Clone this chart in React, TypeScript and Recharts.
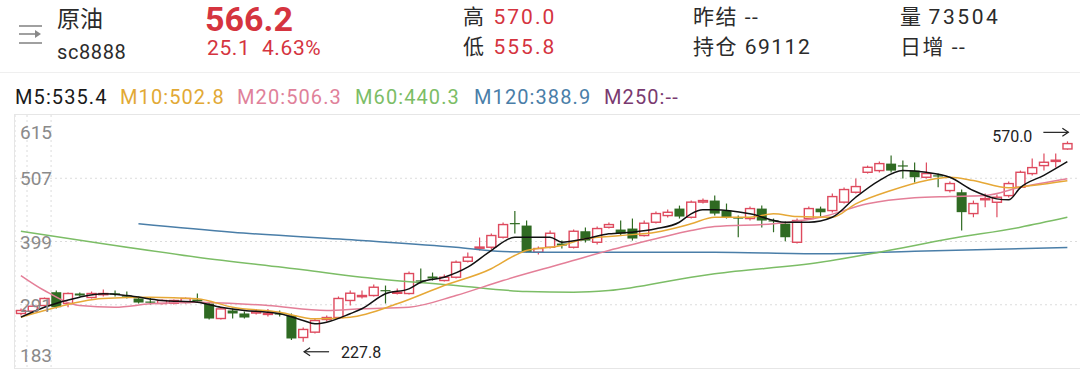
import React from "react";
import {
  ComposedChart,
  Bar,
  Line,
  XAxis,
  YAxis,
  CartesianGrid,
  ReferenceDot,
} from "recharts";

// daily candles, oldest first
const opens = [
  276.1, 280.0, 289.7, 312.4, 293.1, 310.2, 303.4, 309.5, 310.5, 306.8,
  301.7, 296.5, 293.1, 293.5, 294.8, 300.0, 293.1, 267.5, 281.2, 276.1,
  276.9, 276.1, 276.3, 272.7, 235.1, 244.2, 265.8, 269.2, 298.3, 306.5,
  306.8, 316.0, 312.2, 310.2, 332.6, 339.2, 332.4, 338.0, 365.3, 389.0,
  389.2, 406.3, 430.5, 426.2, 380.7, 389.2, 395.5, 389.2, 416.5, 397.7,
  423.3, 419.4, 421.1, 409.2, 431.9, 443.3, 455.2, 440.4, 466.3, 468.9,
  451.8, 440.1, 438.2, 455.2, 435.2, 429.6, 397.7, 438.2, 455.2, 451.8,
  466.2, 483.1, 517.2, 520.1, 532.0, 529.0, 520.1, 508.7, 512.0, 486.0,
  483.1, 446.7, 472.0, 466.0, 477.4, 491.6, 515.0, 528.6, 536.8, 557.0,
];
const closes = [
  281.2, 288.5, 301.7, 286.8, 310.2, 306.8, 310.2, 310.2, 310.0, 306.3,
  294.8, 296.1, 298.3, 298.3, 301.7, 296.6, 267.5, 283.9, 276.1, 269.2,
  279.5, 276.5, 275.8, 233.4, 248.8, 264.1, 269.2, 301.7, 310.7, 306.8,
  320.9, 315.0, 312.6, 344.3, 332.2, 335.8, 338.0, 363.6, 372.2, 389.5,
  409.2, 427.9, 428.5, 380.7, 387.0, 413.1, 392.1, 416.5, 400.6, 421.1,
  427.9, 412.6, 404.1, 430.2, 446.7, 448.9, 441.6, 466.2, 468.9, 446.7,
  440.4, 439.4, 455.2, 434.8, 434.5, 406.3, 434.8, 455.2, 448.9, 475.7,
  487.7, 492.8, 525.7, 532.0, 520.1, 528.2, 508.7, 515.0, 511.4, 497.9,
  449.1, 463.8, 472.3, 474.6, 497.9, 517.2, 525.2, 534.3, 537.8, 566.2,
];
const highs = [
  284.6, 291.4, 303.4, 315.3, 311.9, 311.9, 313.6, 317.0, 315.3, 313.6,
  305.1, 303.4, 300.0, 300.0, 303.4, 310.2, 294.8, 286.3, 284.6, 279.5,
  283.9, 283.9, 281.2, 276.1, 252.2, 267.5, 272.7, 305.1, 315.3, 315.3,
  325.5, 323.8, 318.7, 347.7, 352.9, 346.0, 342.6, 366.5, 380.2, 405.8,
  412.6, 431.3, 450.9, 434.8, 390.4, 417.7, 400.6, 419.4, 422.8, 424.5,
  431.3, 434.8, 438.2, 434.8, 450.1, 453.5, 460.3, 468.9, 472.3, 477.4,
  463.8, 443.3, 458.6, 460.3, 438.2, 433.0, 438.2, 458.6, 458.6, 480.9,
  491.1, 506.5, 528.6, 535.5, 545.7, 537.2, 533.8, 533.8, 515.0, 501.3,
  487.7, 468.9, 480.9, 479.1, 501.3, 520.1, 540.6, 549.1, 549.1, 570.0,
];
const lows = [
  272.7, 277.8, 288.0, 284.6, 286.8, 305.1, 301.7, 305.1, 305.1, 301.7,
  293.1, 291.4, 291.4, 291.4, 293.1, 294.8, 265.8, 265.8, 267.5, 267.5,
  274.4, 271.0, 271.0, 230.8, 227.8, 241.9, 262.4, 267.5, 289.7, 301.7,
  305.1, 293.1, 308.5, 308.5, 327.2, 332.4, 330.7, 335.8, 363.1, 383.6,
  385.3, 404.1, 412.6, 380.2, 376.8, 387.0, 387.0, 387.0, 397.2, 393.8,
  421.1, 409.2, 400.6, 407.5, 429.6, 439.9, 438.2, 438.2, 463.8, 443.3,
  438.2, 406.3, 434.8, 422.8, 414.8, 399.4, 395.5, 436.5, 441.6, 448.4,
  463.8, 480.9, 515.0, 516.7, 516.7, 506.5, 499.6, 506.5, 491.6, 482.6,
  417.7, 440.4, 457.5, 440.4, 474.0, 489.4, 511.6, 520.1, 525.2, 555.8,
];

// moving averages at some candles: [candle index, value]
const ma5Points = [
  [0, 269.8], [2, 286.8], [5, 303.9], [7, 309.7], [9, 306.8], [12, 298.3],
  [15, 295.4], [17, 286.8], [19, 281.2], [21, 278.3], [22, 275.6], [24, 264.2],
  [25, 258.5], [26, 261.2], [28, 275.6], [29, 284.1], [31, 309.7], [33, 318.2],
  [34, 329.5], [36, 338.0], [38, 355.1], [40, 383.6], [42, 406.3], [45, 406.3],
  [46, 397.8], [48, 403.6], [50, 412.1], [52, 414.8], [54, 420.6], [56, 431.9],
  [57, 446.2], [58, 453.1], [59, 453.1], [62, 446.2], [65, 431.9], [67, 431.9],
  [69, 440.4], [71, 474.6], [73, 503.1], [75, 520.1], [77, 517.2], [79, 508.7],
  [81, 486.0], [83, 471.8], [84, 470.1], [85, 491.0], [87, 512.0], [89, 535.4],
];
const ma10Points = [
  [0, 269.8], [2, 281.2], [7, 301.7], [11, 303.9], [15, 301.2], [18, 286.8],
  [22, 278.3], [25, 267.0], [28, 269.8], [32, 292.6], [36, 323.9], [40, 352.4],
  [42, 375.1], [43, 383.6], [46, 392.1], [48, 403.6], [51, 409.2], [54, 414.8],
  [57, 429.2], [59, 440.4], [62, 440.4], [64, 446.2], [66, 441.6], [69, 440.4],
  [71, 463.3], [74, 486.0], [77, 503.1], [79, 508.7], [81, 503.1], [84, 490.6],
  [86, 494.5], [89, 502.8],
];
const ma20Points = [
  [0, 340.9], [2, 315.3], [5, 289.7], [8, 286.8], [11, 292.6], [15, 295.4],
  [21, 289.7], [26, 281.2], [29, 284.1], [33, 286.8], [37, 306.8], [41, 332.4],
  [46, 360.9], [50, 383.6], [54, 403.6], [57, 417.7], [59, 424.6], [64, 429.2],
  [68, 440.4], [72, 463.3], [76, 473.5], [79, 475.8], [82, 477.5], [85, 491.6],
  [89, 506.3],
];
const ma60Points = [
  [0, 416.5], [7, 395.0], [15, 372.2], [24, 350.7], [29, 338.0], [37, 323.9],
  [43, 313.6], [47, 312.4], [50, 315.3], [57, 338.0], [59, 343.8], [68, 363.6],
  [73, 380.7], [79, 403.6], [85, 423.4], [89, 440.3],
];
const ma120Points = [
  [10, 429.2], [18, 414.8], [29, 400.7], [37, 389.2], [41, 381.9], [46, 380.7],
  [59, 380.7], [68, 378.0], [76, 382.4], [89, 388.9],
];

const priceTicks = [183, 291, 399, 507, 615];
const gridPrices = [291, 399, 507];

const maLegend = [
  { label: "M5:535.4", color: "#1a1a1a" },
  { label: "M10:502.8", color: "#e2a935" },
  { label: "M20:506.3", color: "#e0819a" },
  { label: "M60:440.3", color: "#7cbd66" },
  { label: "M120:388.9", color: "#4a7ea8" },
  { label: "M250:--", color: "#7a3a70" },
];

const days = opens.map((_, i) => `D${i + 1}`);

function fromPoints(points: number[][]) {
  const out: (number | null)[] = days.map(() => null);
  points.forEach(([i, v]) => (out[i] = v));
  return out;
}

const ma5 = fromPoints(ma5Points);
const ma10 = fromPoints(ma10Points);
const ma20 = fromPoints(ma20Points);
const ma60 = fromPoints(ma60Points);
const ma120 = fromPoints(ma120Points);

const data = days.map((d, i) => ({
  day: d,
  open: opens[i],
  close: closes[i],
  high: highs[i],
  low: lows[i],
  range: [lows[i], highs[i]],
  ma5: ma5[i],
  ma10: ma10[i],
  ma20: ma20[i],
  ma60: ma60[i],
  ma120: ma120[i],
}));

const RED = "#de4a5e";
const GREEN = "#2f6a22";
const TEXT_RED = "#d5343f";
const FONT = "Roboto, 'Noto Sans CJK SC', sans-serif";

function Candle(props: any) {
  const { x, y, width, height, payload } = props;
  const { open, close, high, low } = payload;
  const top = Math.min(y, y + height);
  const h = Math.abs(height);
  const span = high - low || 1;
  const py = (v: number) => top + ((high - v) / span) * h;
  const cx = x + width / 2;
  const bw = 9;
  const up = close >= open;
  const color = up ? RED : GREEN;
  const bTop = py(Math.max(open, close));
  const bBot = py(Math.min(open, close));
  const bh = Math.max(bBot - bTop, 1.2);
  if (up) {
    return (
      <g>
        <line x1={cx} x2={cx} y1={py(high)} y2={bTop} stroke={color} strokeWidth={1.2} />
        <line x1={cx} x2={cx} y1={bTop + bh} y2={py(low)} stroke={color} strokeWidth={1.2} />
        <rect x={cx - bw / 2} y={bTop} width={bw} height={bh} fill="#fff" stroke={color} strokeWidth={1.4} />
      </g>
    );
  }
  return (
    <g>
      <line x1={cx} x2={cx} y1={py(high)} y2={py(low)} stroke={color} strokeWidth={1.2} />
      <rect x={cx - bw / 2 - 0.5} y={bTop} width={bw + 1} height={bh} fill={color} />
    </g>
  );
}

function PriceTick(props: any) {
  const { y, payload } = props;
  const v = payload.value;
  const dy = v === 615 ? 24 : v === 183 ? -6 : 7;
  return (
    <text x={5} y={y + dy} fill="#8a8a8a" fontFamily={FONT} textAnchor="start" style={{ fontSize: 19 }}>
      {v}
    </text>
  );
}

function LowMark(props: any) {
  const { cx, cy } = props;
  return (
    <g>
      <line x1={cx + 1} y1={cy + 10} x2={cx + 26} y2={cy + 10} stroke="#222" strokeWidth={1.2} />
      <path d={`M${cx + 7},${cy + 6} L${cx + 1},${cy + 10} L${cx + 7},${cy + 14}`} fill="none" stroke="#222" strokeWidth={1.2} />
      <text x={cx + 38} y={cy + 16} fontSize={16} fill="#222" fontFamily={FONT}>227.8</text>
    </g>
  );
}

function HighMark(props: any) {
  const { cx, cy } = props;
  return (
    <g>
      <line x1={cx - 24} y1={cy - 9} x2={cx + 1} y2={cy - 9} stroke="#222" strokeWidth={1.2} />
      <path d={`M${cx - 5},${cy - 13} L${cx + 1},${cy - 9} L${cx - 5},${cy - 5}`} fill="none" stroke="#222" strokeWidth={1.2} />
      <text x={cx - 35} y={cy + 1} fontSize={16} fill="#222" fontFamily={FONT} textAnchor="end">570.0</text>
    </g>
  );
}

function MenuIcon() {
  return (
    <svg width={26} height={22} style={{ position: "absolute", left: 18, top: 24 }}>
      <line x1={1} y1={2} x2={24} y2={2} stroke="#888" strokeWidth={1.6} />
      <line x1={1} y1={10} x2={17} y2={10} stroke="#888" strokeWidth={1.6} />
      <path d="M17,6 L23,10 L17,14 Z" fill="#888" />
      <line x1={1} y1={19} x2={24} y2={19} stroke="#888" strokeWidth={1.6} />
    </svg>
  );
}

const label = (left: number, top: number, size: number, extra: any = {}) => ({
  position: "absolute" as const,
  left,
  top,
  fontSize: size,
  lineHeight: `${size + 4}px`,
  whiteSpace: "nowrap" as const,
  color: "#2b2b2b",
  ...extra,
});

const info = { letterSpacing: 1.5 };

export default function App() {
  return (
    <div
      style={{
        position: "absolute",
        left: 0,
        top: 0,
        width: 1080,
        height: 373,
        overflow: "hidden",
        background: "#fff",
        fontFamily: FONT,
      }}
    >
      <MenuIcon />
      <div style={label(57, 6, 23)}>原油</div>
      <div style={label(57, 40, 20, { letterSpacing: 0.6 })}>sc8888</div>
      <div style={label(205, 1, 34, { color: TEXT_RED, fontWeight: 700, lineHeight: "36px" })}>566.2</div>
      <div style={label(207, 37, 21, { color: TEXT_RED, letterSpacing: 0.6, lineHeight: "22px" })}>
        25.1&nbsp;&nbsp;4.63%
      </div>

      <div style={label(463, 5, 21, info)}>
        高<span style={{ color: TEXT_RED, marginLeft: 8, letterSpacing: 2 }}>570.0</span>
      </div>
      <div style={label(463, 35, 21, info)}>
        低<span style={{ color: TEXT_RED, marginLeft: 8, letterSpacing: 2 }}>555.8</span>
      </div>
      <div style={label(693, 5, 21, info)}>昨结 --</div>
      <div style={label(693, 35, 21, info)}>持仓 69112</div>
      <div style={label(900, 5, 21, info)}>
        量<span style={{ marginLeft: 6, letterSpacing: 2.6 }}>73504</span>
      </div>
      <div style={label(900, 35, 21, info)}>日增 --</div>

      <div style={{ position: "absolute", left: 0, top: 72, width: 1080, height: 1, background: "#efefef" }} />

      {maLegend.map((m, i) => (
        <div
          key={m.label}
          style={label([15, 120, 237, 355, 474, 604][i], 85, 20, { color: m.color, letterSpacing: 1.1 })}
        >
          {m.label}
        </div>
      ))}

      <div
        style={{
          position: "absolute",
          left: 14,
          top: 114,
          width: 1090,
          height: 253,
          border: "1px solid #e6e6e6",
        }}
      />

      <div style={{ position: "absolute", left: 15, top: 115 }}>
        <ComposedChart
          width={1070}
          height={253}
          data={data}
          margin={{ top: 0, right: 0, bottom: 0, left: 0 }}
          barCategoryGap={0}
        >
          <XAxis dataKey="day" hide padding={{ left: 0, right: 11.76 }} />
          <XAxis xAxisId="grid" type="number" domain={[0, 4]} ticks={[1, 2, 3]} hide />
          <YAxis
            domain={[183, 615]}
            ticks={priceTicks}
            interval={0}
            mirror
            axisLine={false}
            tickLine={false}
            tick={<PriceTick />}
            allowDataOverflow
          />
          <CartesianGrid
            xAxisId="grid"
            stroke="#dcdcdc"
            strokeDasharray="2 3"
            horizontalValues={gridPrices}
          />
          <Bar dataKey="range" shape={<Candle />} isAnimationActive={false} />
          <Line type="monotone" dataKey="ma120" stroke="#4a7ea8" strokeWidth={1.5} dot={false} connectNulls isAnimationActive={false} />
          <Line type="monotone" dataKey="ma60" stroke="#7cbd66" strokeWidth={1.5} dot={false} connectNulls isAnimationActive={false} />
          <Line type="monotone" dataKey="ma20" stroke="#e47f98" strokeWidth={1.5} dot={false} connectNulls isAnimationActive={false} />
          <Line type="monotone" dataKey="ma10" stroke="#e6a836" strokeWidth={1.5} dot={false} connectNulls isAnimationActive={false} />
          <Line type="monotone" dataKey="ma5" stroke="#111" strokeWidth={1.5} dot={false} connectNulls isAnimationActive={false} />
          <ReferenceDot x={days[24]} y={227.8} r={0} shape={<LowMark />} />
          <ReferenceDot x={days[89]} y={570} r={0} shape={<HighMark />} />
        </ComposedChart>
      </div>
    </div>
  );
}
